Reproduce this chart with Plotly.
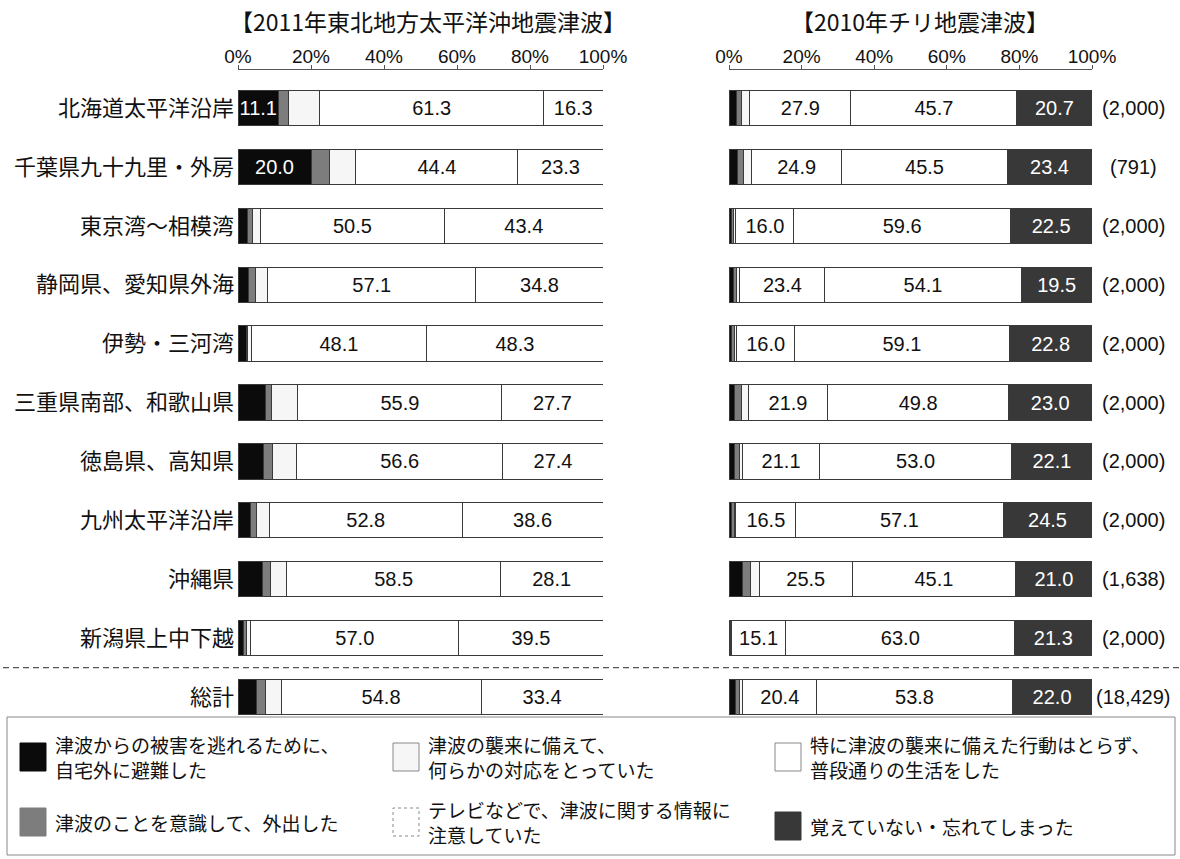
import plotly.graph_objects as go

# Regions (top to bottom) and sample sizes for the 2010 survey
regions = ["北海道太平洋沿岸", "千葉県九十九里・外房", "東京湾～相模湾", "静岡県、愛知県外海",
           "伊勢・三河湾", "三重県南部、和歌山県", "徳島県、高知県", "九州太平洋沿岸",
           "沖縄県", "新潟県上中下越", "総計"]
samples_2010 = ["(2,000)", "(791)", "(2,000)", "(2,000)", "(2,000)", "(2,000)",
                "(2,000)", "(2,000)", "(1,638)", "(2,000)", "(18,429)"]

# 2011 Tohoku tsunami (%)
evac_2011 = [11.1, 20.0, 2.6, 2.8, 2.2, 7.4, 6.9, 3.4, 6.6, 1.4, 5.1]
out_2011 = [2.7, 5.0, 1.4, 2.1, 0.5, 1.9, 2.5, 1.8, 2.4, 1.0, 2.5]
prep_2011 = [8.6, 7.3, 2.1, 3.2, 0.9, 7.1, 6.6, 3.4, 4.4, 1.1, 4.2]
tv_2011 = [61.3, 44.4, 50.5, 57.1, 48.1, 55.9, 56.6, 52.8, 58.5, 57.0, 54.8]
usual_2011 = [16.3, 23.3, 43.4, 34.8, 48.3, 27.7, 27.4, 38.6, 28.1, 39.5, 33.4]
forget_2011 = [0.0] * 11

# 2010 Chile tsunami (%)
evac_2010 = [2.0, 2.4, 0.6, 1.2, 0.8, 1.5, 1.4, 0.7, 3.6, 0.1, 1.7]
out_2010 = [1.4, 1.6, 0.7, 0.9, 0.8, 2.0, 1.4, 0.8, 2.3, 0.3, 1.1]
prep_2010 = [2.3, 2.2, 0.6, 0.9, 0.5, 1.8, 1.0, 0.4, 2.5, 0.2, 1.0]
tv_2010 = [27.9, 24.9, 16.0, 23.4, 16.0, 21.9, 21.1, 16.5, 25.5, 15.1, 20.4]
usual_2010 = [45.7, 45.5, 59.6, 54.1, 59.1, 49.8, 53.0, 57.1, 45.1, 63.0, 53.8]
forget_2010 = [20.7, 23.4, 22.5, 19.5, 22.8, 23.0, 22.1, 24.5, 21.0, 21.3, 22.0]

ticks = [0, 20, 40, 60, 80, 100]

legend_names = [
    "津波からの被害を逃れるために、<br>自宅外に避難した",
    "津波のことを意識して、外出した",
    "津波の襲来に備えて、<br>何らかの対応をとっていた",
    "テレビなどで、津波に関する情報に<br>注意していた",
    "特に津波の襲来に備えた行動はとらず、<br>普段通りの生活をした",
    "覚えていない・忘れてしまった",
]
colors = ["#0b0b0b", "#7d7d7d", "#f6f6f6", "#ffffff", "#ffffff", "#383838"]
text_colors = ["#ffffff", "#ffffff", "#111111", "#111111", "#111111", "#ffffff"]

W, H = 1180, 859
FONT = "Liberation Sans, Arial, Noto Sans CJK JP, sans-serif"
JFONT = "Noto Sans CJK JP, sans-serif"

def px_x(p):
    return p / W

def px_y(p):
    return 1 - p / H

rows = list(range(len(regions)))

series_2011 = [evac_2011, out_2011, prep_2011, tv_2011, usual_2011, forget_2011]
series_2010 = [evac_2010, out_2010, prep_2010, tv_2010, usual_2010, forget_2010]
# which series carry value labels in each panel
labelled_2011 = [lambda i: i < 2, lambda i: False, lambda i: False,
                 lambda i: True, lambda i: True, lambda i: False]
labelled_2010 = [lambda i: False, lambda i: False, lambda i: False,
                 lambda i: True, lambda i: True, lambda i: True]

fig = go.Figure()

for k in range(6):
    for series, labelled, xa, ya in [(series_2011, labelled_2011, "x", "y"),
                                     (series_2010, labelled_2010, "x2", "y2")]:
        vals = series[k]
        texts = [f"{v:.1f}" if labelled[k](i) else "" for i, v in enumerate(vals)]
        fig.add_trace(go.Bar(
            x=vals, y=rows, orientation="h", xaxis=xa, yaxis=ya,
            width=0.6,
            marker=dict(color=colors[k], line=dict(color="#3a3a3a", width=1)),
            text=texts, textposition="inside", insidetextanchor="middle",
            constraintext="none", textangle=0,
            textfont=dict(family=FONT, size=20, color=text_colors[k]),
            showlegend=False, hoverinfo="skip",
        ))

y_range = [(716 - 108) / 58.9, (70 - 108) / 58.9]
xa_common = dict(range=[0, 100], side="top", tickvals=ticks,
                 ticktext=[f"{t}%" for t in ticks], showline=True,
                 linecolor="#555555", linewidth=1, ticks="outside", ticklen=4,
                 tickcolor="#555555", showgrid=False, zeroline=False,
                 automargin=False, ticklabelstandoff=-6,
                 tickfont=dict(family=FONT, size=19, color="#111111"))

fig.update_layout(
    width=W, height=H, margin=dict(l=0, r=0, t=0, b=0, pad=0),
    paper_bgcolor="white", plot_bgcolor="white",
    barmode="stack", bargap=0.4,
    xaxis=dict(domain=[px_x(238), px_x(603)], anchor="y", **xa_common),
    xaxis2=dict(domain=[px_x(729), px_x(1092)], anchor="y2", **xa_common),
    yaxis=dict(domain=[px_y(716), px_y(70)], range=y_range, tickvals=rows,
               ticktext=regions, showgrid=False, zeroline=False, ticks="",
               automargin=False, ticklabelstandoff=3,
               tickfont=dict(family=JFONT, size=22, color="#111111"), anchor="x"),
    yaxis2=dict(domain=[px_y(716), px_y(70)], range=y_range, showticklabels=False,
                showgrid=False, zeroline=False, automargin=False, anchor="x2"),
)

annotations = [
    dict(text="【2011年東北地方太平洋沖地震津波】", x=px_x(428), y=px_y(21),
         font=dict(family=JFONT, size=23, color="#111111")),
    dict(text="【2010年チリ地震津波】", x=px_x(920), y=px_y(21),
         font=dict(family=JFONT, size=23, color="#111111")),
]
for i, s in enumerate(samples_2010):
    annotations.append(dict(text=s, x=px_x(1133), y=i, yref="y2",
                            font=dict(family=FONT, size=20, color="#111111")))

# legend: boxes and labels in a 3 x 2 grid
legend_pos = [(20, 757), (20, 822), (393, 757), (393, 822), (775, 757), (775, 826)]
shapes = [
    dict(type="line", xref="paper", yref="y", x0=px_x(3), x1=px_x(1180), y0=9.5, y1=9.5,
         line=dict(color="#555555", width=1.2, dash="6px,4px")),
    dict(type="rect", xref="paper", yref="paper", x0=px_x(7), x1=px_x(1175),
         y0=px_y(855), y1=px_y(717), line=dict(color="#888888", width=1)),
]
for k, (lx, ly) in enumerate(legend_pos):
    border = "#888888" if k in (2, 3, 4) else colors[k]
    shapes.append(dict(type="rect", xref="paper", yref="paper",
                       x0=px_x(lx), x1=px_x(lx + 26), y0=px_y(ly + 14), y1=px_y(ly - 14),
                       fillcolor=colors[k],
                       line=dict(color=border, width=1, dash="dot" if k == 3 else "solid")))
    annotations.append(dict(text=legend_names[k], x=px_x(lx + 33), y=px_y(ly),
                            xanchor="left", yanchor="middle", align="left",
                            font=dict(family=JFONT, size=19, color="#111111")))

for a in annotations:
    a.setdefault("xref", "paper")
    a.setdefault("yref", "paper")
    a.setdefault("xanchor", "center")
    a.setdefault("yanchor", "middle")
    a["showarrow"] = False
fig.update_layout(annotations=annotations, shapes=shapes)

fig.write_html("out.html")
